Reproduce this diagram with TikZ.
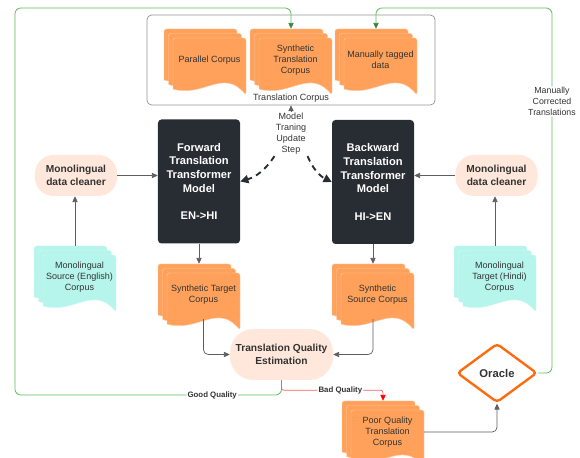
\documentclass[tikz,border=0pt]{standalone}
\usepackage{fontspec}
\setmainfont{Liberation Sans}
\usepackage{tikz}
\usetikzlibrary{arrows.meta,positioning,shapes.geometric,fit}
\definecolor{FlowOrange}{HTML}{FFA15A}
\definecolor{FlowCyan}{HTML}{B5F5EC}
\definecolor{FlowPeach}{HTML}{FFE8DB}
\definecolor{FlowDark}{HTML}{282C33}
\definecolor{FlowText}{HTML}{333333}
\definecolor{FlowLine}{HTML}{5E5E5E}
\definecolor{FlowGreen}{HTML}{5DBE5D}
\definecolor{FlowRed}{HTML}{F06262}
\definecolor{FlowOracle}{HTML}{FF6A0D}

\tikzset{
  corpusdoc/.pic={
    \path[pic actions] (0,51) [rounded corners=2pt] -- (0,0) -- (73,0) -- (73,57)
      [sharp corners] .. controls (50,30) and (30,60) .. (0,51) -- cycle;
  },
}
% stack of three documents: name, x, y (top left of front sheet), colour, text
\newcommand{\corpusstack}[5]{%
  \foreach \d in {9,4.5,0}
    \pic[fill=#4, draw=white!45!#4, line width=0.4pt] at (#2-\d,#3-\d) {corpusdoc};
  \node[doctext] (#1-f) at (#2+36.5,#3+22) {#5};
  \node[inner sep=0pt, fit={(#2-9,#3-9) (#2+73,#3+57)}] (#1) {};
}

\begin{document}
\begin{tikzpicture}[x=0.03cm,y=-0.03cm,
    doctext/.style={font=\fontsize{7.7}{9.4}\selectfont, text=FlowText, align=center,
      minimum width=2.19cm, minimum height=1.44cm, inner sep=0pt},
    model/.style={fill=FlowDark, rounded corners=3pt, text=white, align=center,
      font=\fontsize{9.5}{11.7}\selectfont\bfseries, minimum width=2.46cm, minimum height=3.72cm},
    cleaner/.style={fill=FlowPeach, rounded corners=0.55cm, text=FlowText, align=center,
      font=\fontsize{8.7}{10.7}\selectfont\bfseries, minimum width=2.46cm, minimum height=1.23cm},
    oracle/.style={diamond, draw=FlowOracle, line width=2pt, fill=white, rounded corners=3pt,
      minimum width=2.4cm, minimum height=1.77cm, inner sep=0pt, text=FlowText,
      font=\fontsize{9.6}{11}\selectfont\bfseries},
    note/.style={font=\fontsize{7.7}{9.4}\selectfont, text=FlowText, align=center, inner sep=1pt},
    lbl/.style={font=\fontsize{6.7}{8}\selectfont\bfseries, text=FlowText, fill=white, inner sep=1pt},
    conn/.style={draw=FlowLine, line width=0.6pt, rounded corners=4pt,
      -{Triangle[length=5pt,width=4.5pt]}},
    good/.style={draw=FlowGreen, line width=0.7pt, rounded corners=5pt,
      -{Triangle[length=5pt,width=4.5pt,color=FlowGreen!70!black]}},
    bad/.style={draw=FlowRed, line width=0.6pt, rounded corners=2pt,
      -{Triangle[length=5pt,width=4.5pt,color=red]}},
    update/.style={draw=FlowDark, line width=1.6pt, dash pattern=on 5pt off 4pt,
      -{Triangle[length=7pt,width=7pt]}}]
  \useasboundingbox (0,0) rectangle (580,458);

  % translation corpus
  \node[draw=gray!85, line width=0.6pt, rounded corners=4pt, minimum width=8.64cm,
    minimum height=2.7cm,
    label={[anchor=south, inner sep=2pt, font=\fontsize{7.7}{9}\selectfont, text=FlowText]south:Translation Corpus}]
    (tc) at (291,60) {};
  \corpusstack{par}{173}{38}{FlowOrange}{Parallel Corpus}
  \corpusstack{syn}{259}{38}{FlowOrange}{Synthetic\\Translation\\Corpus}
  \corpusstack{man}{344}{38}{FlowOrange}{Manually tagged\\data}

  % models and cleaners
  \node[model] (fwd) at (199,181.5) {Forward\\Translation\\Transformer\\Model\\[11.7pt]EN->HI};
  \node[model] (bwd) at (373,182) {Backward\\Translation\\Transformer\\Model\\[11.7pt]HI->EN};
  \node[cleaner] (cl) at (76,175.5) {Monolingual\\data cleaner};
  \node[cleaner] (cr) at (496.5,175.5) {Monolingual\\data cleaner};
  \node[note] (mts) at (291,134) {Model\\Traning\\Update\\Step};

  \corpusstack{src}{43}{255}{FlowCyan}{Monolingual\\Source (English)\\Corpus}
  \corpusstack{tgt}{463}{255}{FlowCyan}{Monolingual\\Target (Hindi)\\Corpus}
  \corpusstack{stc}{167}{273}{FlowOrange}{Synthetic Target\\Corpus}
  \corpusstack{ssc}{341}{273}{FlowOrange}{Synthetic\\Source Corpus}

  \node[cleaner, minimum width=3.09cm, minimum height=1.53cm, rounded corners=0.7cm]
    (tqe) at (281.5,354.5) {Translation Quality\\Estimation};
  \corpusstack{pq}{351}{410}{FlowOrange}{Poor Quality\\Translation\\Corpus}
  \node[oracle] (orc) at (497,373) {Oracle};

  \coordinate (gq-l) at (15,395);
  \coordinate (gq-t) at (15,8);
  \coordinate (mc-t) at (552,8);

  % connectors
  \draw[conn] (cl.east) -- (cl.east -| fwd.west);
  \draw[conn] (cr.west) -- (cr.west -| bwd.east);
  \draw[conn] (src.north) -- (src.north |- cl.south);
  \draw[conn] (tgt.north) -- (tgt.north |- cr.south);
  \draw[conn] (fwd.south) -- (fwd.south |- stc.north);
  \draw[conn] (bwd.south) -- (bwd.south |- ssc.north);
  \draw[conn] (stc-f.south) |- (tqe.west);
  \draw[conn] (ssc-f.south -| ssc.north) |- (tqe.east);
  \draw[conn] (pq-f.east) -| (orc.south);
  \draw[conn] (mts.north) -- (tc.south);
  \draw[update] (mts.south west) to[bend left=20] (fwd.east);
  \draw[update] (mts.south east) to[bend right=20] (bwd.west);

  \draw[good] (tqe.south) |- node[lbl, pos=0.63] {Good Quality} (gq-l) -- (gq-t) -| (syn.north);
  \draw[bad] (tqe.south) -- ++(0,10) -| node[lbl, pos=0.29] {Bad Quality} (pq.north);
  \draw[good] (orc.east) -| node[note, fill=white, pos=0.872, font=\fontsize{7.5}{9.2}\selectfont]
    {Manually\\Corrected\\Translations} (mc-t) -| (man.north);
\end{tikzpicture}
\end{document}
